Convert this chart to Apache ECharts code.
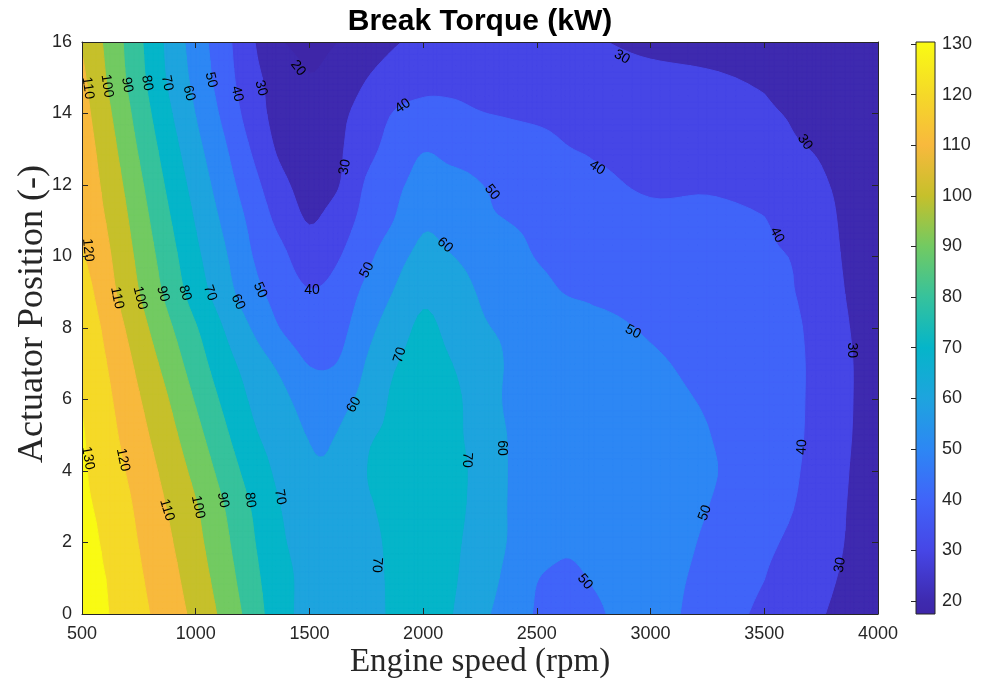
<!DOCTYPE html>
<html>
<head>
<meta charset="utf-8">
<script src="https://cdn.jsdelivr.net/npm/echarts@6/dist/echarts.min.js"></script>
<style>
  html, body { margin: 0; padding: 0; background: #ffffff; }
  #chart { width: 989px; height: 687px; }
</style>
</head>
<body>
<div id="chart"></div>
<script>
// Sample grid: engine speed (rpm) columns and actuator position rows
const speedRpm = [500, 625, 750, 875, 1000, 1125, 1250, 1375, 1500, 1625, 1750, 1875, 2000,
                  2125, 2250, 2375, 2500, 2625, 2750, 3000, 3250, 3500, 3625, 3750, 3875, 4000];
const actuatorPos = [0, 1, 2, 3, 4, 5, 6, 7, 8, 9, 10, 11, 12, 13, 14, 15, 16];

// Brake torque (kW), one row per actuator position, one value per engine speed
const torqueRows = [
  [132, 129.8, 122.8, 115.4, 107.3, 97.2, 85.4, 73, 67.5, 65, 67.5, 71, 73, 70.2, 62.7, 55.4, 49.2, 46.5, 49, 53, 45.9, 38.1, 34.3, 30.5, 27.5, 25.5],
  [131.5, 129.3, 121.3, 113.7, 105, 94.7, 83.1, 72.5, 68, 65.5, 67.5, 71.2, 73.5, 71, 65, 57.5, 50.3, 48.5, 50.5, 53, 47.5, 40.1, 36, 32, 28.5, 26],
  [132, 128.2, 119.7, 111.7, 102.8, 92.3, 81, 71, 68, 66, 68, 71.5, 74, 71.5, 66.3, 59.5, 55, 51.5, 53, 54, 48.8, 42.1, 38.3, 33.7, 29.2, 26.5],
  [131.5, 127, 117.9, 109.6, 100.7, 90, 79.1, 69.8, 67, 65.5, 69, 72, 74.5, 72.5, 66.8, 59.7, 58.5, 57, 56, 54, 50.1, 43.5, 40.2, 34.9, 29.5, 27],
  [131.3, 124.2, 115.8, 106.9, 97.1, 86.1, 75.4, 67.5, 61.5, 62, 69.8, 72.5, 75, 73, 67, 59.8, 58.5, 57.5, 56.5, 54, 51, 44.4, 41.3, 35.6, 29.9, 27],
  [130.8, 122.4, 113.3, 103.8, 93.2, 81.9, 71.5, 65.6, 59.5, 60.3, 68.5, 71.5, 74, 72, 66.3, 59.7, 58.5, 57.5, 56.5, 54, 50.3, 44.3, 42, 36.2, 30.3, 27.5],
  [129.5, 120.7, 110.7, 100.5, 89.1, 77.9, 68.5, 62.4, 56, 56.5, 63.4, 71.5, 73.5, 72, 65.4, 58.8, 58.2, 56.8, 55.3, 52.5, 49.1, 43.9, 42, 36.7, 30.5, 27.5],
  [128, 118.7, 107.6, 96.5, 84.9, 73.8, 65.2, 57.6, 49.5, 50.3, 60.4, 69.3, 72.5, 70.1, 63.8, 59.4, 57.8, 56.1, 54.5, 51.3, 47.4, 43.1, 42, 36.7, 30.5, 27.5],
  [127.5, 116, 104, 92.2, 80.7, 69.5, 59.1, 49.5, 44, 46.5, 56.5, 65.1, 71.5, 67.3, 61.2, 58.8, 56.7, 54.7, 52.7, 48.9, 45.6, 42.3, 41.5, 36.1, 30, 27.3],
  [125, 112.5, 100.1, 87.6, 75.1, 64.2, 53.2, 46, 40.5, 43.5, 52.2, 60.5, 68, 64.5, 59.2, 55.8, 52.5, 49.7, 48.5, 46.1, 43.7, 41.3, 40.3, 35, 29.2, 27],
  [120.9, 110.3, 97.6, 84.7, 72.1, 61.3, 49.9, 42.4, 34.5, 39.2, 47.4, 56, 62.5, 60.2, 56.4, 52.7, 49.7, 48.6, 47.5, 45.3, 43.1, 40.9, 39.5, 33.8, 28.6, 26.5],
  [117.5, 108.1, 95, 81.7, 69.2, 58.1, 47.2, 37, 29.5, 34.8, 43.3, 50.2, 58.5, 56, 51.5, 49.9, 48.9, 47.8, 46.7, 43, 42.5, 40.3, 36.5, 32.4, 28.3, 26],
  [117, 105.7, 92.2, 78.6, 66.2, 54.7, 43.3, 32.6, 26.5, 29.4, 41, 47.7, 53, 52.5, 50.2, 48.3, 46.3, 44.4, 42.4, 38.5, 38.8, 36.5, 33.5, 30.7, 28.4, 26],
  [116, 103.2, 89.1, 75.5, 63, 51.4, 38.9, 28, 24, 28.5, 36.7, 44, 49.5, 47.5, 46.5, 45, 43.5, 40.5, 39, 36.6, 34.3, 31.9, 30.6, 29.5, 27.8, 25.5],
  [114, 100.5, 86.1, 72.2, 59.7, 47.6, 35, 26, 22, 27.5, 33.7, 40.5, 42.3, 42, 40.3, 39.3, 38.3, 37.4, 36.4, 34.5, 32.6, 30.7, 29.6, 28.5, 26.8, 25],
  [112, 97.7, 83.3, 69.2, 57, 44.7, 32.7, 26, 20.3, 24, 29.7, 34.5, 37.5, 37.5, 37, 36.2, 35.5, 34.5, 33.5, 32, 30.8, 29.2, 28.2, 27.3, 25.8, 24.5],
  [109, 96.3, 82, 68, 55.3, 43.3, 31, 20.7, 17.6, 20, 24.6, 29.1, 32.5, 34, 34.5, 34, 33, 32, 30.6, 28, 27, 26, 25.3, 24.5, 23.8, 23]
];

// Contour levels and colour-bar range
const contourLevels = [20, 30, 40, 50, 60, 70, 80, 90, 100, 110, 120, 130];
const colorRange = [17.4, 130.4];

// Axis ticks
const speedTicks = [500, 4000, 500];   // min, max, step
const positionTicks = [0, 16, 2];

// Inline contour labels: [rpm, position, level, angle in degrees]
const contourLabels = [
  [526, 14.71, 110, -82], [610, 14.77, 100, -81], [698, 14.80, 90, -80], [786, 14.85, 80, -80],
  [874, 14.85, 70, -78], [970, 14.57, 60, -77], [1067, 14.94, 50, -77], [1182, 14.55, 40, -76],
  [1287, 14.71, 30, -74], [1450, 15.27, 20, -52], [526, 10.18, 120, -85],
  [654, 8.84, 110, -78], [755, 8.84, 100, -76], [856, 8.95, 90, -74], [953, 8.98, 80, -73],
  [1063, 8.98, 70, -71], [1186, 8.73, 60, -65], [1283, 9.06, 50, -66], [1511, 9.06, 40, 0],
  [526, 4.36, 130, -80], [680, 4.31, 120, -78], [874, 2.91, 110, -73], [1010, 2.99, 100, -78],
  [1120, 3.19, 90, -80], [1239, 3.19, 80, -83], [1371, 3.27, 70, -80],
  [1656, 12.50, 30, 80], [1911, 14.21, 40, 35], [2874, 15.58, 30, -30], [2303, 11.80, 50, -52],
  [2765, 12.48, 40, -33], [3679, 13.20, 30, -55], [2096, 10.32, 60, -42], [1753, 9.62, 50, 63],
  [3556, 10.60, 40, -62], [1898, 7.24, 70, 72], [2923, 7.89, 50, -27], [3886, 7.38, 30, -90],
  [1696, 5.85, 60, 60], [2347, 4.64, 60, -90], [2193, 4.31, 70, -93], [1797, 1.37, 70, -93],
  [2712, 0.90, 50, -50], [3239, 2.83, 50, 70], [3666, 4.67, 40, 88], [3833, 1.37, 30, 80]
];

// Fill colours: below the first level, then one per level (parula-like)
const bandColors = ['#3e26a8', '#3e2aaf', '#4646e6', '#4064f9', '#2d87f4', '#1ea4de', '#05b5c9',
                    '#36c29c', '#72ca62', '#c6c02b', '#f8b93d', '#f5d928', '#f9fa14'];
const inkColor = '#262626';
const tickFont = '"Liberation Sans", Arial, sans-serif';
const CELL_STEPS = 6;   // sub-steps per grid cell when tracing the bands

// Grid value with straight-line continuation past the edges
function gridValue(i, j) {
  const nx = speedRpm.length, ny = actuatorPos.length;
  if (i < 0) return 2 * gridValue(0, j) - gridValue(1, j);
  if (i > nx - 1) return 2 * gridValue(nx - 1, j) - gridValue(nx - 2, j);
  if (j < 0) return 2 * gridValue(i, 0) - gridValue(i, 1);
  if (j > ny - 1) return 2 * gridValue(i, ny - 1) - gridValue(i, ny - 2);
  return torqueRows[j][i];
}

// Cubic (Catmull-Rom) surface through the grid, kept within the cell's corner range
function cubic(p0, p1, p2, p3, t) {
  return 0.5 * (2 * p1 + (p2 - p0) * t + (2 * p0 - 5 * p1 + 4 * p2 - p3) * t * t +
                (3 * p1 - p0 - 3 * p2 + p3) * t * t * t);
}
function surface(i, j, u, w) {
  const rows = [];
  for (let jj = j - 1; jj <= j + 2; jj++) {
    rows.push(cubic(gridValue(i - 1, jj), gridValue(i, jj), gridValue(i + 1, jj), gridValue(i + 2, jj), u));
  }
  const v = cubic(rows[0], rows[1], rows[2], rows[3], w);
  const c = [torqueRows[j][i], torqueRows[j][i + 1], torqueRows[j + 1][i], torqueRows[j + 1][i + 1]];
  return Math.min(Math.max(v, Math.min(...c)), Math.max(...c));
}

// Keep the part of a polygon where f(point) >= 0 (values taken linearly along edges)
function clipHalf(poly, f) {
  const out = [];
  for (let i = 0; i < poly.length; i++) {
    const a = poly[i], b = poly[(i + 1) % poly.length];
    const fa = f(a), fb = f(b);
    if (fa >= 0) out.push(a);
    if ((fa >= 0) !== (fb >= 0)) {
      const t = fa / (fa - fb);
      out.push([a[0] + t * (b[0] - a[0]), a[1] + t * (b[1] - a[1]), a[2] + t * (b[2] - a[2])]);
    }
  }
  return out;
}

// Polygons (data units) for every band between consecutive levels
function buildBands() {
  const bands = bandColors.map(() => []);
  const n = CELL_STEPS;
  for (let j = 0; j < actuatorPos.length - 1; j++) {
    for (let i = 0; i < speedRpm.length - 1; i++) {
      const xa = speedRpm[i], xb = speedRpm[i + 1];
      const ya = actuatorPos[j], yb = actuatorPos[j + 1];
      const pts = [];
      for (let t = 0; t <= n; t++) {
        const row = [];
        for (let s = 0; s <= n; s++) {
          const u = s / n, w = t / n;
          row.push([xa + u * (xb - xa), ya + w * (yb - ya), surface(i, j, u, w)]);
        }
        pts.push(row);
      }
      for (let t = 0; t < n; t++) {
        for (let s = 0; s < n; s++) {
          const quad = [pts[t][s], pts[t][s + 1], pts[t + 1][s + 1], pts[t + 1][s]];
          const vals = quad.map(p => p[2]);
          const vmin = Math.min(...vals), vmax = Math.max(...vals);
          for (let k = 0; k < bandColors.length; k++) {
            const lo = k === 0 ? -Infinity : contourLevels[k - 1];
            const hi = k === contourLevels.length ? Infinity : contourLevels[k];
            if (vmax < lo || vmin >= hi) continue;
            let poly = quad;
            if (vmin < lo) poly = clipHalf(poly, p => p[2] - lo);
            if (vmax > hi && poly.length) poly = clipHalf(poly, p => hi - p[2]);
            if (poly.length >= 3) bands[k].push(poly);
          }
        }
      }
    }
  }
  return bands;
}
const bandPolygons = buildBands();

const chart = echarts.init(document.getElementById('chart'), null, { renderer: 'canvas' });

// SVG-style path from data-space polygons, placed with the axis scales
function toPath(polys, api) {
  const x0 = speedRpm[0], x1 = speedRpm[speedRpm.length - 1];
  const y0 = actuatorPos[0], y1 = actuatorPos[actuatorPos.length - 1];
  const a = api.coord([x0, y0]), b = api.coord([x1, y1]);
  const kx = (b[0] - a[0]) / (x1 - x0), ky = (b[1] - a[1]) / (y1 - y0);
  const parts = [];
  polys.forEach(poly => {
    let d = '';
    poly.forEach((p, idx) => {
      const px = a[0] + (p[0] - x0) * kx, py = a[1] + (p[1] - y0) * ky;
      d += (idx === 0 ? 'M' : 'L') + px.toFixed(2) + ' ' + py.toFixed(2);
    });
    parts.push(d + 'Z');
  });
  return parts.join('');
}

const frameAxis = (extra) => Object.assign({
  type: 'value',
  z: 10,
  axisLine: { show: true, onZero: false, lineStyle: { color: inkColor, width: 1 } },
  axisTick: { show: true, inside: true, length: 6, lineStyle: { color: inkColor, width: 1 } },
  axisLabel: { show: true, color: inkColor, fontSize: 18, fontFamily: tickFont, margin: 10,
               formatter: v => String(v) },
  splitLine: { show: false }
}, extra);

const option = {
  animation: false,
  backgroundColor: '#ffffff',
  grid: [
    { left: 82, top: 42, width: 796, height: 572, outerBoundsMode: 'none' },
    { left: 916, top: 42, width: 19, height: 572, outerBoundsMode: 'none' }
  ],
  xAxis: [
    frameAxis({ gridIndex: 0, position: 'bottom', min: speedTicks[0], max: speedTicks[1], interval: speedTicks[2],
                axisLabel: { show: true, color: inkColor, fontSize: 18, fontFamily: tickFont, margin: 11,
                             formatter: v => String(v) } }),
    frameAxis({ gridIndex: 0, position: 'top', min: speedTicks[0], max: speedTicks[1], interval: speedTicks[2],
                axisLabel: { show: false } }),
    { gridIndex: 1, type: 'value', min: 0, max: 1, show: false }
  ],
  yAxis: [
    frameAxis({ gridIndex: 0, position: 'left', min: positionTicks[0], max: positionTicks[1], interval: positionTicks[2] }),
    frameAxis({ gridIndex: 0, position: 'right', min: positionTicks[0], max: positionTicks[1], interval: positionTicks[2],
                axisLabel: { show: false } }),
    frameAxis({ gridIndex: 1, position: 'right', min: colorRange[0], max: colorRange[1],
                axisLine: { show: false },
                axisTick: { show: true, inside: true, length: 5, customValues: contourLevels,
                            lineStyle: { color: inkColor, width: 1 } },
                axisLabel: { show: true, customValues: contourLevels, color: inkColor, fontSize: 18,
                             fontFamily: tickFont, margin: 7, formatter: v => String(v) } })
  ],
  graphic: [
    { type: 'text', x: 480, y: 22, z: 20,
      style: { text: 'Break Torque (kW)', fill: '#000000', align: 'center', verticalAlign: 'middle',
               font: 'bold 30px "Liberation Sans", Arial, sans-serif' } },
    { type: 'text', x: 480, y: 662, z: 20,
      style: { text: 'Engine speed (rpm)', fill: inkColor, align: 'center', verticalAlign: 'middle',
               font: '33px "Liberation Serif", "Times New Roman", serif' } },
    { type: 'text', x: 33, y: 314, rotation: Math.PI / 2, z: 20,
      style: { text: 'Actuator Position (-)', fill: inkColor, align: 'center', verticalAlign: 'middle',
               font: '36px "Liberation Serif", "Times New Roman", serif' } }
  ],
  series: [
    {
      // filled contour bands
      type: 'custom',
      xAxisIndex: 0, yAxisIndex: 0,
      z: 1, silent: true, clip: true,
      data: [[speedRpm[0], actuatorPos[0]]],
      renderItem: (params, api) => {
        const x0 = speedRpm[0], x1 = speedRpm[speedRpm.length - 1];
        const y0 = actuatorPos[0], y1 = actuatorPos[actuatorPos.length - 1];
        const children = [{
          type: 'path',
          shape: { pathData: toPath([[[x0, y0], [x1, y0], [x1, y1], [x0, y1]]], api) },
          style: { fill: bandColors[0] }
        }];
        bandPolygons.forEach((polys, k) => {
          if (k === 0 || !polys.length) return;
          children.push({
            type: 'path',
            shape: { pathData: toPath(polys, api) },
            style: { fill: bandColors[k], stroke: bandColors[k], lineWidth: 1, lineJoin: 'round' }
          });
        });
        return { type: 'group', children };
      }
    },
    {
      // inline level labels
      type: 'custom',
      xAxisIndex: 0, yAxisIndex: 0,
      z: 3, silent: true, clip: false,
      data: contourLabels.map(l => [l[0], l[1]]),
      renderItem: (params, api) => {
        const p = api.coord([api.value(0), api.value(1)]);
        const item = contourLabels[params.dataIndex];
        return {
          type: 'text', x: p[0], y: p[1], rotation: item[3] * Math.PI / 180,
          style: { text: String(item[2]), fill: '#000000', align: 'center', verticalAlign: 'middle',
                   font: '14px "Liberation Sans", Arial, sans-serif' }
        };
      }
    },
    {
      // colour bar
      type: 'custom',
      xAxisIndex: 2, yAxisIndex: 2,
      z: 1, silent: true, clip: false,
      data: [[0, colorRange[0]]],
      renderItem: (params, api) => {
        const tl = api.coord([0, colorRange[1]]);
        const br = api.coord([1, colorRange[0]]);
        const span = colorRange[1] - colorRange[0];
        const stops = [{ offset: 0, color: bandColors[0] }];
        contourLevels.forEach((lev, k) => {
          stops.push({ offset: (lev - colorRange[0]) / span, color: bandColors[k + 1] });
        });
        stops.push({ offset: 1, color: bandColors[bandColors.length - 1] });
        return {
          type: 'rect',
          shape: { x: tl[0], y: tl[1], width: br[0] - tl[0], height: br[1] - tl[1] },
          style: {
            fill: new echarts.graphic.LinearGradient(0, 1, 0, 0, stops),
            stroke: inkColor, lineWidth: 1
          }
        };
      }
    }
  ]
};

chart.setOption(option);
</script>
</body>
</html>
